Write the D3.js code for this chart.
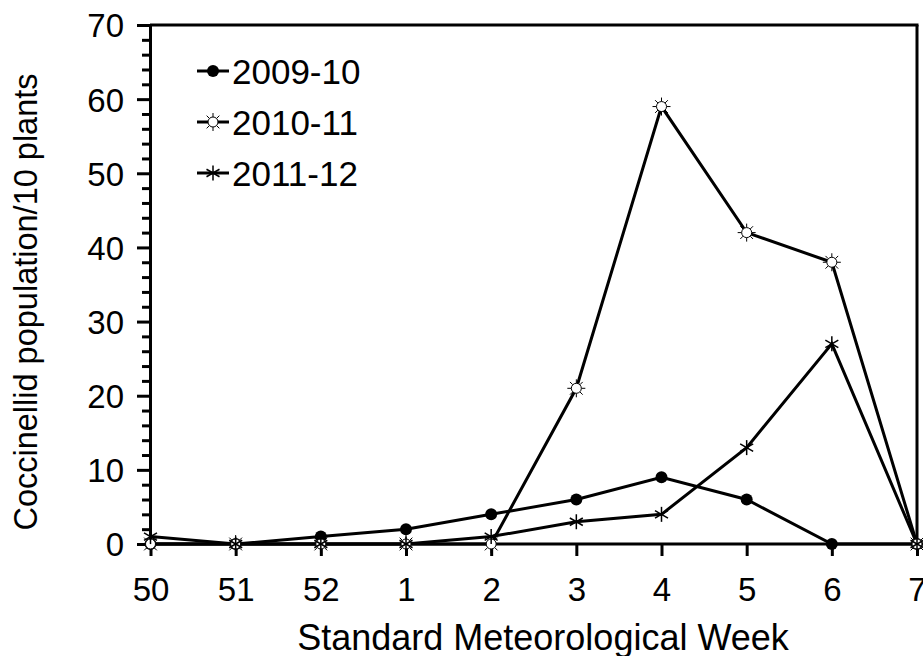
<!DOCTYPE html>
<html><head><meta charset="utf-8">
<script src="https://cdn.jsdelivr.net/npm/d3@7"></script>
<style>body{margin:0;background:#fff}svg{display:block}text{font-family:"Liberation Sans",Arial,sans-serif;fill:#000}</style>
</head><body><svg id="c" width="923" height="656"></svg>
<script>
const weeks = ["50","51","52","1","2","3","4","5","6","7"];
const s2009 = [0,0,1,2,4,6,9,6,0,0];
const s2010 = [0,0,0,0,0,21,59,42,38,0];
const s2011 = [1,0,0,0,1,3,4,13,27,0];
const seriesNames = ["2009-10","2010-11","2011-12"];
const yTicks = [0,10,20,30,40,50,60,70];

const svg = d3.select("#c");
const L=150, R=917, T=25, B=544;
const x = d3.scalePoint().domain(weeks).range([L+0.5, R]);
const y = d3.scaleLinear().domain([0,70]).range([B,T]);

// frame top & right
svg.append("line").attr("x1",L).attr("x2",R+1.5).attr("y1",T).attr("y2",T).attr("stroke","#000").attr("stroke-width",3);
svg.append("line").attr("x1",R).attr("x2",R).attr("y1",T).attr("y2",B).attr("stroke","#000").attr("stroke-width",3);

// y axis minor ticks
const gy = svg.append("g").attr("transform",`translate(${L},0)`);
gy.call(d3.axisLeft(y).tickValues(d3.range(0,71,2).filter(v=>v%10)).tickSize(8).tickFormat(""))
  .call(g=>g.select(".domain").remove()).selectAll("line").attr("stroke-width",3);
const gy2 = svg.append("g").attr("transform",`translate(${L},0)`);
gy2.call(d3.axisLeft(y).tickValues(yTicks).tickSize(13).tickPadding(13).tickSizeOuter(0))
  .call(g=>g.select(".domain").attr("stroke-width",3))
  .call(g=>g.selectAll("line").attr("stroke-width",3))
  .call(g=>g.selectAll("text").attr("font-size",33).attr("dy","0.36em"));
gy2.attr("font-family",null).attr("font-size",33);

const gx = svg.append("g").attr("transform",`translate(0,${B})`);
gx.call(d3.axisBottom(x).tickSize(12).tickPadding(21).tickSizeOuter(0))
  .call(g=>g.select(".domain").remove())
  .call(g=>g.selectAll("line").attr("stroke-width",3))
  .call(g=>g.selectAll("text").attr("font-size",33).attr("dy","0.72em"));
gx.attr("font-family",null).attr("font-size",33);
svg.append("line").attr("x1",L-1.5).attr("x2",R).attr("y1",B).attr("y2",B).attr("stroke","#000").attr("stroke-width",3);

svg.append("text").attr("x",543).attr("y",650).attr("text-anchor","middle").attr("font-size",36).text("Standard Meteorological Week");
svg.append("text").attr("transform","translate(37,302) rotate(-90)").attr("text-anchor","middle").attr("font-size",32.5).text("Coccinellid population/10 plants");

const line = d3.line().x((d,i)=>x(weeks[i])).y(d=>y(d));
const data = [s2009,s2010,s2011];
data.forEach(s=>svg.append("path").attr("d",line(s)).attr("fill","none").attr("stroke","#000").attr("stroke-width",3));

function marker(g, type){
  if(type===0){ g.append("circle").attr("r",6).attr("fill","#000"); }
  else if(type===1){
    for(let k=0;k<8;k++){const a=k*Math.PI/4; g.append("line").attr("x1",5*Math.cos(a)).attr("y1",5*Math.sin(a)).attr("x2",9*Math.cos(a)).attr("y2",9*Math.sin(a)).attr("stroke","#000").attr("stroke-width",1);}
    g.append("circle").attr("r",5).attr("fill","#fff").attr("stroke","#000").attr("stroke-width",1);
  } else {
    [90,30,150].forEach(deg=>{const a=deg*Math.PI/180; g.append("line").attr("x1",-7.5*Math.cos(a)).attr("y1",-7.5*Math.sin(a)).attr("x2",7.5*Math.cos(a)).attr("y2",7.5*Math.sin(a)).attr("stroke","#000").attr("stroke-width",1.5);});
  }
}
data.forEach((s,si)=>{
  s.forEach((v,i)=>{ marker(svg.append("g").attr("transform",`translate(${x(weeks[i])},${y(v)})`), si); });
});

// legend
seriesNames.forEach((n,i)=>{
  const yy = 71 + i*51;
  svg.append("line").attr("x1",197).attr("x2",229).attr("y1",yy).attr("y2",yy).attr("stroke","#000").attr("stroke-width",3);
  marker(svg.append("g").attr("transform",`translate(213,${yy})`), i);
  svg.append("text").attr("x",232).attr("y",yy).attr("dy","0.36em").attr("font-size",35).text(n);
});
</script></body></html>
